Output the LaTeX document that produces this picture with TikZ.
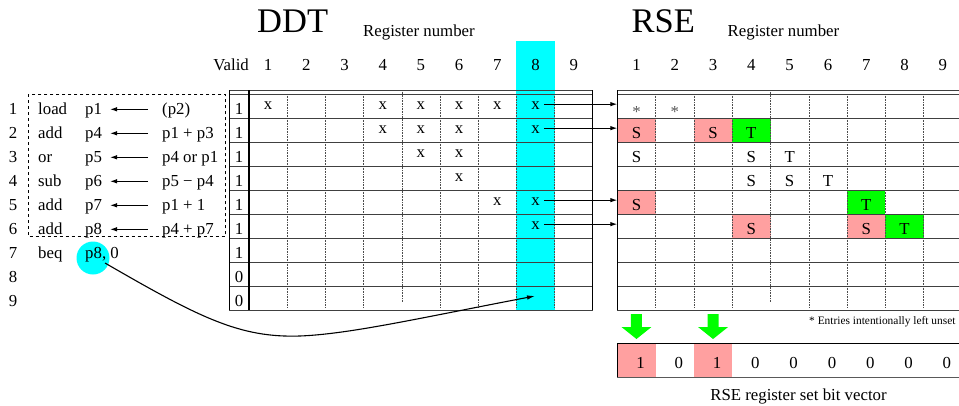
\documentclass[tikz,border=0pt]{standalone}
\usepackage{fontspec}
\setmainfont{Liberation Serif}
\usetikzlibrary{arrows.meta}
\definecolor{cellpink}{RGB}{255,160,160}
\definecolor{cellgreen}{RGB}{0,255,0}
\definecolor{hicyan}{RGB}{0,255,255}
\begin{document}
\begin{tikzpicture}[x=1pt,y=-1pt,
  txt/.style={font=\fontsize{16.8}{17}\selectfont, inner sep=0pt, anchor=base},
  txtw/.style={txt, anchor=base west},
  big/.style={font=\fontsize{34.5}{35}\selectfont, inner sep=0pt, anchor=base west},
  small/.style={font=\fontsize{11.4}{12}\selectfont, inner sep=0pt, anchor=base west},
  rowline/.style={line width=0.9pt, black!75},
  edgeline/.style={line width=0.8pt, black},
  sepline/.style={line width=1.4pt, black},
  colsep/.style={densely dotted, line width=0.6pt, black!70},
  conn/.style={line width=1pt, -{Latex[length=7pt,width=4.5pt]}},
  greenarrow/.style={fill=cellgreen, draw=none},
]
\useasboundingbox (0,0) rectangle (959,405);

% ---------- highlight column in DDT ----------
\fill[hicyan] (516.4,41) rectangle (554.6,310);

% ---------- titles ----------
\node[big] (ddt) at (257,32) {DDT};
\node[txtw] (regnumA) at (363,36.7) {Register number};
\node[big] (rse) at (631.5,32) {RSE};
\node[txtw] (regnumB) at (727.5,36.7) {Register number};

% ---------- DDT headers ----------
\node[txt, anchor=base east] (valid) at (249,70.7) {Valid};
\foreach \c in {1,...,9}
  \node[txt] (dh\c) at ({249+38.2*(\c-0.5)},70.7) {\c};
% ---------- RSE headers ----------
\foreach \c in {1,...,9}
  \node[txt] (rh\c) at ({617.3+38.3*(\c-0.5)},70.7) {\c};

% ---------- RSE coloured cells ----------
\foreach \r/\c/\col in {2/1/cellpink,2/3/cellpink,2/4/cellgreen,5/1/cellpink,5/7/cellgreen,6/4/cellpink,6/7/cellpink,6/8/cellgreen}
  \fill[\col] ({617.3+38.3*(\c-1)},{94+24*(\r-1)}) rectangle +(38.3,24);

% ---------- DDT grid ----------
\foreach \k in {1,2,3,5,6,7,8}
  \draw[colsep] ({249+38.2*\k},94) -- ({249+38.2*\k},308);
\draw[colsep] ({249+38.2*4},90) -- ({249+38.2*4},302);
\draw[rowline] (229,90) -- (592.8,90);
\foreach \i in {0,...,9}
  \draw[rowline] (229,{94+24*\i}) -- (592.8,{94+24*\i});
\draw[edgeline] (229,90) -- (229,310);
\draw[sepline] (249,90) -- (249,310);
\draw[edgeline] (592.8,90) -- (592.8,310);

% ---------- RSE grid ----------
\foreach \k in {1,2,3,5,6,7,8}
  \draw[colsep] ({617.3+38.3*\k},94) -- ({617.3+38.3*\k},308);
\draw[colsep] ({617.3+38.3*4},90) -- ({617.3+38.3*4},302);
\draw[rowline] (617.3,90) -- (959,90);
\foreach \i in {0,...,9}
  \draw[rowline] (617.3,{94+24*\i}) -- (959,{94+24*\i});
\draw[sepline] (617.3,90) -- (617.3,310);
\coordinate (rseL) at (617.3,0);

% ---------- DDT contents ----------
\foreach \r/\v in {1/1,2/1,3/1,4/1,5/1,6/1,7/1,8/0,9/0}
  \node[txt] (valid\r) at (239,{94+24*(\r-1)+20}) {\v};
\foreach \r/\c in {1/1,1/4,1/5,1/6,1/7,1/8,2/4,2/5,2/6,2/8,3/5,3/6,4/6,5/7,5/8,6/8}
  \node[txt] (x\r-\c) at ({249+38.2*(\c-0.5)},{94+24*(\r-1)+15}) {x};

% ---------- RSE contents ----------
\foreach \c in {1,2}
  \node[txt, text=black!65] (ast\c) at ({617.3+38.3*(\c-0.5)},117.5) {*};
\foreach \r/\c/\t in {2/1/S,2/3/S,2/4/T,3/1/S,3/4/S,3/5/T,4/4/S,4/5/S,4/6/T,5/1/S,5/7/T,6/4/S,6/7/S,6/8/T}
  \node[txt] (st\r-\c) at ({617.3+38.3*(\c-0.5)},{94+24*(\r-1)+20}) {\t};

% ---------- DDT -> RSE arrows ----------
\foreach \r in {1,2,5,6}
  \draw[conn] ([xshift=4pt,yshift=1pt]x\r-8.east) -- ([yshift=1pt]x\r-8.east -| rseL);

% ---------- instruction list ----------
\draw[dashed, line width=0.7pt] (28,94.3) rectangle (225.3,236.7);
\fill[hicyan] (93,258) circle (16.5);
\foreach \r in {1,...,9}
  \node[txt] (ln\r) at (13,{94+24*(\r-1)+20}) {\r};
\foreach \r/\op/\dst/\src in {1/load/p1/(p2),2/add/p4/p1 + p3,3/or/p5/p4 or p1,4/sub/p6/p5 − p4,5/add/p7/p1 + 1,6/add/p8/p4 + p7}{
  \node[txtw] (op\r) at (38,{94+24*(\r-1)+20}) {\op};
  \node[txtw] (dst\r) at (85,{94+24*(\r-1)+20}) {\dst};
  \node[txtw] (src\r) at (162,{94+24*(\r-1)+20}) {\src};
  \coordinate (ia\r) at (148,{94+24*(\r-1)+15.3});
  \coordinate (ib\r) at (110,{94+24*(\r-1)+15.3});
  \draw[conn] (ia\r) -- (ib\r);
}
\node[txtw] (op7) at (38,258) {beq};
\node[txtw] (dst7) at (85,258) {p8, 0};

% ---------- curved connector ----------
\coordinate (cstart) at (105,263);
\coordinate (cmid) at (300,336);
\coordinate (cend) at (535,296);
\draw[line width=1.1pt, -{Latex[length=8pt,width=4.5pt]}]
  (cstart) .. controls (200,318) and (240,338) .. (cmid)
           .. controls (350,334) and (420,318) .. (cend);

% ---------- green arrows ----------
\foreach \c in {1,3}{
  \fill[greenarrow] ({617.3+38.3*(\c-0.5)-5.5},314) -- ++(11,0) -- ++(0,13) -- ++(9.5,0)
     -- ++(-15,12) -- ++(-15,-12) -- ++(9.5,0) -- cycle;
}

% ---------- footnote ----------
\node[small] (note) at (809,324) {* Entries intentionally left unset};

% ---------- bit vector ----------
\fill[cellpink] (617.3,343.3) rectangle (655.6,377.3);
\fill[cellpink] (693.9,343.3) rectangle (732.2,377.3);
\draw[line width=1.3pt, black] (617.3,343.3) -- (959,343.3);
\draw[line width=1.3pt, black!65] (617.3,377.3) -- (959,377.3);
\draw[line width=1.3pt, black] (617.3,343.3) -- (617.3,377.3);
\foreach \c/\b in {1/1,2/0,3/1,4/0,5/0,6/0,7/0,8/0,9/0}
  \node[txt] (bit\c) at ({617.3+38.3*(\c-0.5)+4},368) {\b};
\node[txt] (bvlabel) at (798.5,400.7) {RSE register set bit vector};
\end{tikzpicture}
\end{document}
